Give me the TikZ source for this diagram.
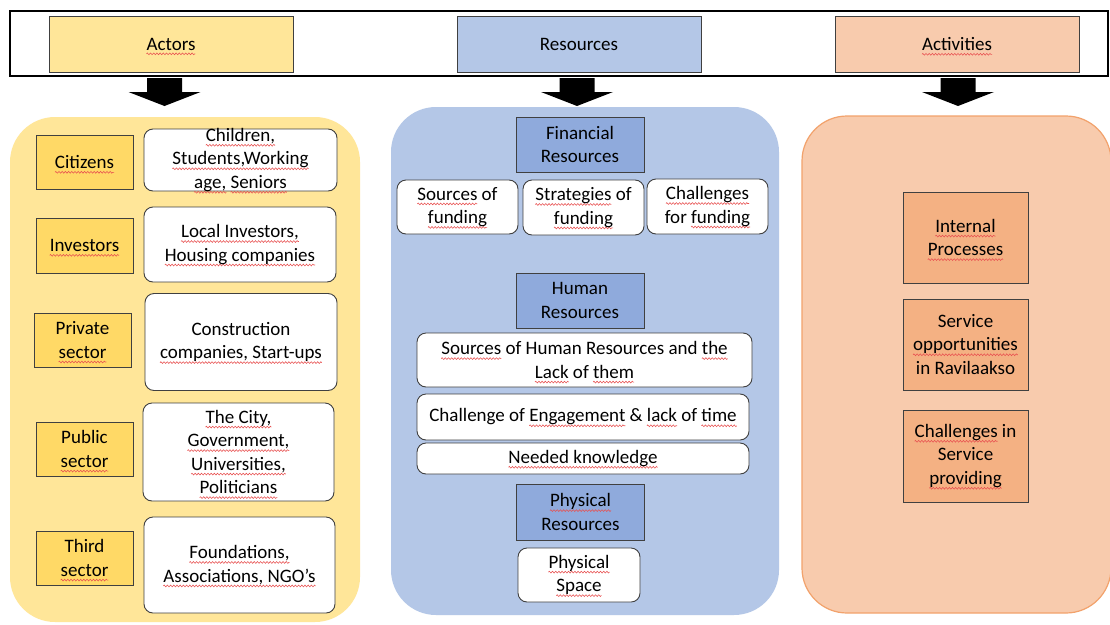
\documentclass[tikz,border=0pt]{standalone}
\usepackage{fontspec}
\setmainfont{Carlito}
\usetikzlibrary{decorations.pathmorphing}

% palette
\definecolor{cYpanel}{HTML}{FFE699}
\definecolor{cYbox}{HTML}{FFD966}
\definecolor{cBpanel}{HTML}{B4C7E7}
\definecolor{cBbox}{HTML}{8FAADC}
\definecolor{cOpanel}{HTML}{F8CBAD}
\definecolor{cObox}{HTML}{F4B183}
\definecolor{cOline}{HTML}{F2A26C}
\definecolor{cEdge}{HTML}{404040}
\definecolor{cSquig}{HTML}{E85050}

% red wavy spell-check underline under a word
\newlength\sqw
\newcommand\sq[1]{\settowidth\sqw{#1}\leavevmode\rlap{\tikz[overlay, sharp corners]\draw[cSquig, line width=0.55pt, sharp corners, decorate, decoration={zigzag, segment length=3.2pt, amplitude=0.9pt}] (0pt,-3.8pt) -- (\sqw,-3.8pt);}#1}

\begin{document}
\begin{tikzpicture}[x=1pt,y=-1pt,
  every node/.style={font=\fontsize{19}{23.5}\selectfont, align=center, inner sep=0pt, text=black},
  headbox/.style={draw=cEdge, line width=0.9pt, minimum width=244, minimum height=56},
  ylabel/.style={draw=cEdge, line width=0.9pt, fill=cYbox, minimum width=97, minimum height=54},
  bhead/.style={draw=cEdge, line width=0.9pt, fill=cBbox, minimum width=128, minimum height=55},
  obox/.style={draw=cEdge, line width=0.9pt, fill=cObox, minimum width=125, minimum height=91},
  wbox/.style={draw=cEdge, line width=0.9pt, fill=white, rounded corners=9},
  panel/.style={rounded corners=45},
  blockarrow/.pic={\fill[black] (-17.5,2) -- (17.5,2) -- (17.5,16) -- (36,16) -- (0,30) -- (-36,16) -- (-17.5,16) -- cycle;}
]
\useasboundingbox (0,0) rectangle (1110,624);
\fill[white] (0,0) rectangle (1110,624);

% top banner
\node[draw=black, line width=2.5pt, minimum width=1098, minimum height=65] (banner) at (559,43.5) {};
\node[headbox, fill=cYpanel] (actors) at (171,44) {\sq{Actors}};
\node[headbox, fill=cBpanel] (resources) at (579,44) {Resources};
\node[headbox, fill=cOpanel] (activities) at (957,44) {\sq{Activities}};

% arrows under the banner
\pic at (164.5,76) {blockarrow};
\pic at (577,76) {blockarrow};
\pic at (958,76) {blockarrow};

% column panels
\fill[cYpanel, panel] (10,117) rectangle (360,622);
\fill[cBpanel, panel] (391,107) rectangle (779,615);
\filldraw[fill=cOpanel, draw=cOline, line width=1.2pt, panel] (802,116) rectangle (1111,613);

% actors
\node[ylabel] (citizens) at (84.5,162) {\sq{Citizens}};
\node[wbox, minimum width=193, minimum height=62] (children) at (240.5,160) {};
\node (childrentxt) at (children.center) {\sq{Children,}\\\sq{Students,Working}\\\sq{age,} \sq{Seniors}};
\node[ylabel, minimum height=55] (investors) at (84.5,245.5) {\sq{Investors}};
\node[wbox, minimum width=192, minimum height=75] (localinv) at (240,244.5) {\sq{Local Investors,}\\\sq{Housing companies}};
\node[ylabel] (private) at (82.5,340) {Private\\\sq{sector}};
\node[wbox, minimum width=192, minimum height=97] (construction) at (241,342) {Construction\\\sq{companies, Start-ups}};
\node[ylabel] (public) at (84.5,449) {Public\\\sq{sector}};
\node[wbox, minimum width=191, minimum height=98] (thecity) at (238.5,452) {\sq{The City,}\\\sq{Government,}\\\sq{Universities,}\\\sq{Politicians}};
\node[ylabel] (third) at (84.5,558) {Third\\\sq{sector}};
\node[wbox, minimum width=191, minimum height=96] (foundations) at (239.5,565) {\sq{Foundations,}\\\sq{Associations, NGO’s}};

% resources
\node[bhead] (financial) at (580,144.5) {Financial\\Resources};
\node[wbox, minimum width=121, minimum height=54] (srcfund) at (457.5,207) {\sq{Sources} of\\\sq{funding}};
\node[wbox, minimum width=121, minimum height=55] (stratfund) at (583.5,207.5) {\sq{Strategies} of\\\sq{funding}};
\node[wbox, minimum width=121, minimum height=55] (chalfund) at (707.5,206.5) {\sq{Challenges}\\for \sq{funding}};
\node[bhead] (human) at (580,300.5) {Human\\Resources};
\node[wbox, minimum width=335, minimum height=54] (srchr) at (584.5,360) {\sq{Sources} of Human Resources and \sq{the}\\\sq{Lack} of \sq{them}};
\node[wbox, minimum width=332, minimum height=46] (engage) at (583,417) {Challenge of \sq{Engagement} \& \sq{lack} of \sq{time}};
\node[wbox, minimum width=332, minimum height=31] (needed) at (583,458.5) {\sq{Needed knowledge}};
\node[bhead, minimum height=56] (physres) at (580.5,512) {\sq{Physical}\\Resources};
\node[wbox, minimum width=122, minimum height=54] (space) at (579,575) {\sq{Physical}\\\sq{Space}};

% activities
\node[obox] (internal) at (965.5,237.5) {\sq{Internal}\\\sq{Processes}};
\node[obox] (service) at (965.5,344.5) {Service\\\sq{opportunities}\\in Ravilaakso};
\node[obox, minimum height=92] (challenges) at (965.5,456) {\sq{Challenges} in\\Service\\\sq{providing}};
\end{tikzpicture}
\end{document}
